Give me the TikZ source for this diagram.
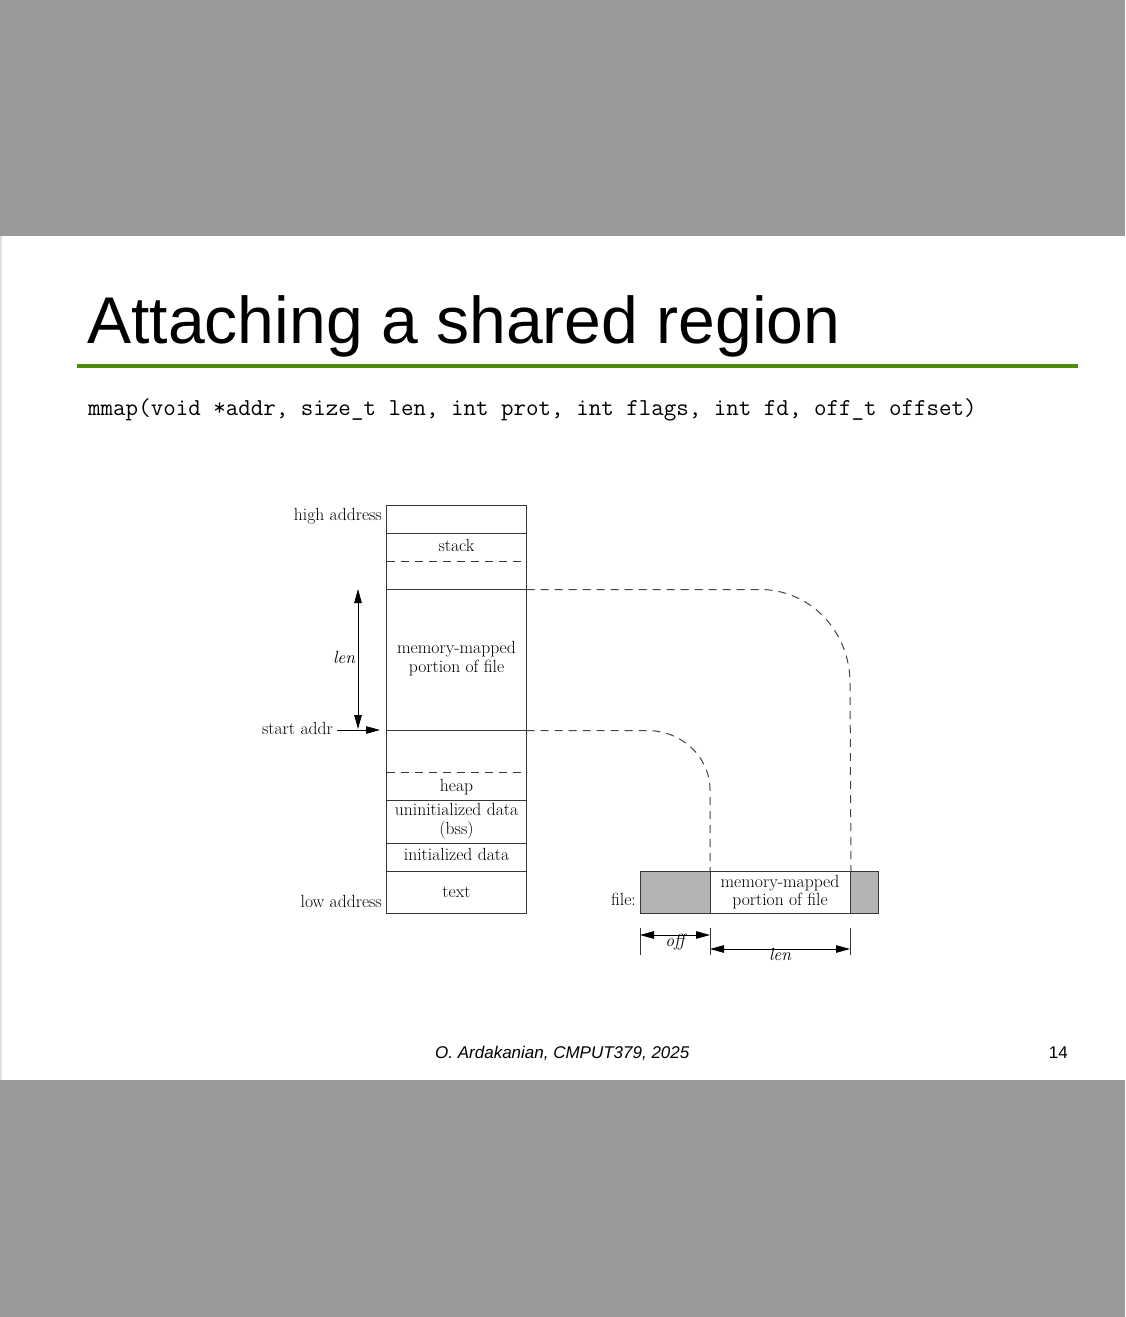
\documentclass[tikz,border=0pt]{standalone}
\usepackage{fontspec}
\usetikzlibrary{arrows.meta}
\newfontfamily\slidesans{Liberation Sans}
\definecolor{bandgray}{RGB}{154,154,154}
\definecolor{rulegreen}{RGB}{78,140,8}
\definecolor{filegray}{RGB}{180,180,180}
\definecolor{linegray}{RGB}{55,55,55}
\definecolor{dashgray}{RGB}{70,70,70}
\newcommand{\titlefont}{\slidesans\fontsize{66.1}{70}\selectfont}
\newcommand{\codefont}{\ttfamily\fontsize{24.3}{26}\selectfont}
\newcommand{\footfont}{\slidesans\fontsize{17}{20}\selectfont}
\newcommand{\diafont}{\fontsize{17.6}{20}\selectfont}
\begin{document}
\begin{tikzpicture}[x=1pt,y=-1pt,
  txt/.style={inner sep=0pt,font=\diafont},
  boxline/.style={draw=linegray,line width=1pt},
  sepdash/.style={draw=linegray,line width=1pt,dash pattern=on 8pt off 6pt},
  conn/.style={draw=dashgray,line width=1pt,dash pattern=on 8pt off 6pt},
  dimarrow/.style={draw=black,line width=0.8pt,{Triangle[length=14pt,width=7.5pt]}-{Triangle[length=14pt,width=7.5pt]}},
  tick/.style={draw=linegray,line width=0.8pt},
  filecell/.style={draw=linegray,line width=1pt,minimum height=42pt,inner sep=0pt,anchor=north west}]
\useasboundingbox (0,0) rectangle (1125,1317);

% slide frame
\fill[bandgray] (0,0) rectangle (1125,236);
\fill[bandgray] (0,1080) rectangle (1125,1317);
\draw[black!12,line width=1.5pt] (0.75,236) -- (0.75,1080);

% heading and signature
\node[anchor=base west,inner sep=0pt] (title) at (87,343) {\titlefont Attaching a shared region};
\fill[rulegreen] (77,364) rectangle (1078,367.5);
\node[anchor=base west,inner sep=0pt] (sig) at (88,415)
  {\codefont mmap(void *addr, size\_t len, int prot, int flags, int fd, off\_t offset)};

% process address space
\coordinate (memNW) at (386.5,505);
\coordinate (memSE) at (526.5,913);
\draw[boxline] (memNW) rectangle (memSE);
\foreach \yy in {533,589,730,800,843,871}
  \draw[boxline] (386.5,\yy) -- (526.5,\yy);
\foreach \yy in {561,772}
  \draw[sepdash] (386.5,\yy) -- (526.5,\yy);
\coordinate (mapTop) at (526.5,589.5);
\coordinate (mapBot) at (526.5,730.5);

\node[txt,anchor=base east] (hi) at (382,520) {high address};
\node[txt,anchor=base east] (lo) at (382,907) {low address};
\node[txt,anchor=base] (stk) at (456.5,551) {stack};
\node[txt,anchor=base] (mm1) at (456.5,653) {memory-mapped};
\node[txt,anchor=base] (mm2) at (456.5,672) {portion of file};
\node[txt,anchor=base] (hp) at (456.5,791) {heap};
\node[txt,anchor=base] (bss1) at (456.5,815) {uninitialized data};
\node[txt,anchor=base] (bss2) at (456.5,834) {(bss)};
\node[txt,anchor=base] (dat) at (456.5,860) {initialized data};
\node[txt,anchor=base] (txt) at (456.5,897) {text};

% length of the mapping and its start address
\coordinate (lenTop) at (358,589);
\coordinate (lenBot) at (358,729);
\draw[dimarrow] (lenTop) -- (lenBot);
\node[txt,anchor=base] (lenL) at (344,663) {\itshape len};
\node[txt,anchor=base east] (sa) at (333,734) {start addr};
\coordinate (saTail) at (337,730);
\coordinate (saHead) at (380,730);
\draw[draw=black,line width=0.8pt,-{Triangle[length=14pt,width=7.5pt]}] (saTail) -- (saHead);

% the file on disk
\node[filecell,fill=filegray,minimum width=70pt] (fOff) at (640,871) {};
\node[filecell,fill=white,minimum width=140pt] (fMap) at (710,871) {};
\node[filecell,fill=filegray,minimum width=28pt] (fRest) at (850,871) {};
\node[txt,anchor=base] (fm1) at (780,887) {memory-mapped};
\node[txt,anchor=base] (fm2) at (780,905) {portion of file};
\node[txt,anchor=base east] (flab) at (636,905) {file:};

% mapping correspondence
\draw[conn] (mapTop) -- (760,589.5) .. controls (810,589.5) and (850,631) .. (850,683) -- (fMap.north east);
\draw[conn] (mapBot) -- (647,730.5) .. controls (682,730.5) and (710,757) .. (710,790) -- (fMap.north west);

% offset and length dimensions
\foreach \xx in {640,710,850}
  \draw[tick] (\xx,928) -- (\xx,955);
\coordinate (offL) at (640,935);
\coordinate (offR) at (710,935);
\coordinate (lenL2) at (710,949);
\coordinate (lenR2) at (850,949);
\draw[dimarrow] (offL) -- (offR);
\draw[dimarrow] (lenL2) -- (lenR2);
\node[txt,anchor=base] (offT) at (675,946) {\itshape off};
\node[txt,anchor=base] (lenT) at (780,960) {\itshape len};

% footer
\node[anchor=base west,inner sep=0pt] (foot) at (435,1058) {\footfont\itshape O. Ardakanian, CMPUT379, 2025};
\node[anchor=base east,inner sep=0pt] (pg) at (1068,1058) {\footfont 14};
\end{tikzpicture}
\end{document}
